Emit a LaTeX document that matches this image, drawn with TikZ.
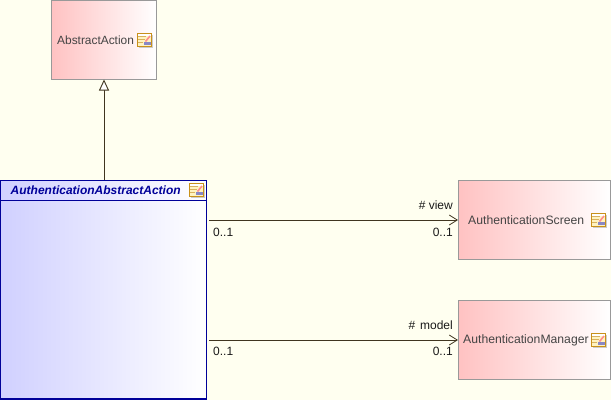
\documentclass[tikz,border=0pt]{standalone}
\usepackage{fontspec}
\setmainfont{Liberation Sans}
\usetikzlibrary{arrows.meta}
\definecolor{bgcol}{HTML}{FFFFF0}
\definecolor{linecol}{HTML}{40351F}
\definecolor{boxedge}{HTML}{999999}
\definecolor{pinkcol}{HTML}{FFC2C2}
\definecolor{navycol}{HTML}{000099}
\definecolor{lavcol}{HTML}{D0D0FF}
\definecolor{txtcol}{HTML}{444444}
\definecolor{iconedge}{HTML}{C8901A}
\definecolor{iconfill}{HTML}{FFF3C0}
\tikzset{
  pinkbox/.style={draw=boxedge,line width=1pt,left color=pinkcol,right color=white,middle color=pinkcol!50!white,inner sep=0pt,rectangle},
  mainbox/.style={draw=navycol,line width=1.2pt,left color=lavcol,right color=white,middle color=lavcol!50!white,inner sep=0pt,rectangle},
  assoc/.style={draw=linecol,line width=0.9pt,-{Straight Barb[length=8pt,width=10pt,line width=0.8pt]},shorten <=2pt},
  gener/.style={draw=linecol,line width=0.9pt,-{Triangle[length=11pt,width=10pt,fill=white,line width=0.9pt]}},
  lab/.style={inner sep=0pt,font=\fontsize{12}{14}\selectfont,text=black!90},
  boxlab/.style={inner sep=0pt,font=\fontsize{12.2}{14}\selectfont,text=txtcol},
}
\newcommand{\classicon}[1]{%
  \begin{scope}[shift={(#1)}]
    \fill[black!20] (1.5,1.5) rectangle (15.5,15);
    \draw[iconedge,line width=1pt,fill=iconfill] (0.5,0.5) rectangle (14.5,13.5);
    \fill[white] (1,1) rectangle (14,3);
    \draw[iconedge!70,line width=0.9pt] (0.5,3.5) -- (9,3.5) (0.5,6.5) -- (8,6.5) (0.5,9.5) -- (6,9.5);
    \fill[blue!35!gray!70] (6.5,8.5) rectangle (13.5,12);
    \draw[red!45!white,line width=1.6pt] (8.5,8.5) -- (13,3);
    \draw[iconedge,line width=1pt] (0.5,0.5) rectangle (14.5,13.5);
  \end{scope}}
\begin{document}
\begin{tikzpicture}[x=1pt,y=-1pt]
\useasboundingbox (0,0) rectangle (611,400);
\fill[bgcol] (0,0) rectangle (611,400);
\node[pinkbox,minimum width=105pt,minimum height=79pt] (abs) at (104,39.5) {};
\node[mainbox,minimum width=206pt,minimum height=218.5pt] (main) at (103.5,289.7) {};
\node[pinkbox,minimum width=152pt,minimum height=79pt] (scr) at (534.5,220) {};
\node[pinkbox,minimum width=152pt,minimum height=79pt] (mgr) at (534.5,340) {};
\draw[navycol,line width=1pt] (main.north west |- 0,200.5) -- (main.north east |- 0,200.5);
\node[boxlab,anchor=west,font=\fontsize{11.9}{14}\selectfont] (absT) at (57,40) {AbstractAction};
\node[boxlab,anchor=west] (scrT) at (468,220) {AuthenticationScreen};
\node[boxlab,anchor=west] (mgrT) at (463,340) {AuthenticationManager};
\node[anchor=west,inner sep=0pt,font=\fontsize{12}{14}\selectfont\bfseries\itshape,text=navycol] (mainT) at (10.5,190) {AuthenticationAbstractAction};
\classicon{137,33}
\classicon{189,183}
\classicon{591,213}
\classicon{591,333}
\draw[gener] (main.north -| abs.south) -- (abs.south);
\draw[assoc] (main.east |- scr.west) -- (scr.west);
\draw[assoc] (main.east |- mgr.west) -- (mgr.west);
\node[lab,anchor=west] (v1) at (213,232) {0..1};
\node[lab,anchor=east] (v2) at (453,232) {0..1};
\node[lab,anchor=east] (v3) at (453,205) {\# view};
\node[lab,anchor=west] (m1) at (213,351.5) {0..1};
\node[lab,anchor=east] (m2) at (453,351.5) {0..1};
\node[lab,anchor=east] (m3) at (453,325) {\#\hspace{1.5pt} model};
\end{tikzpicture}
\end{document}
